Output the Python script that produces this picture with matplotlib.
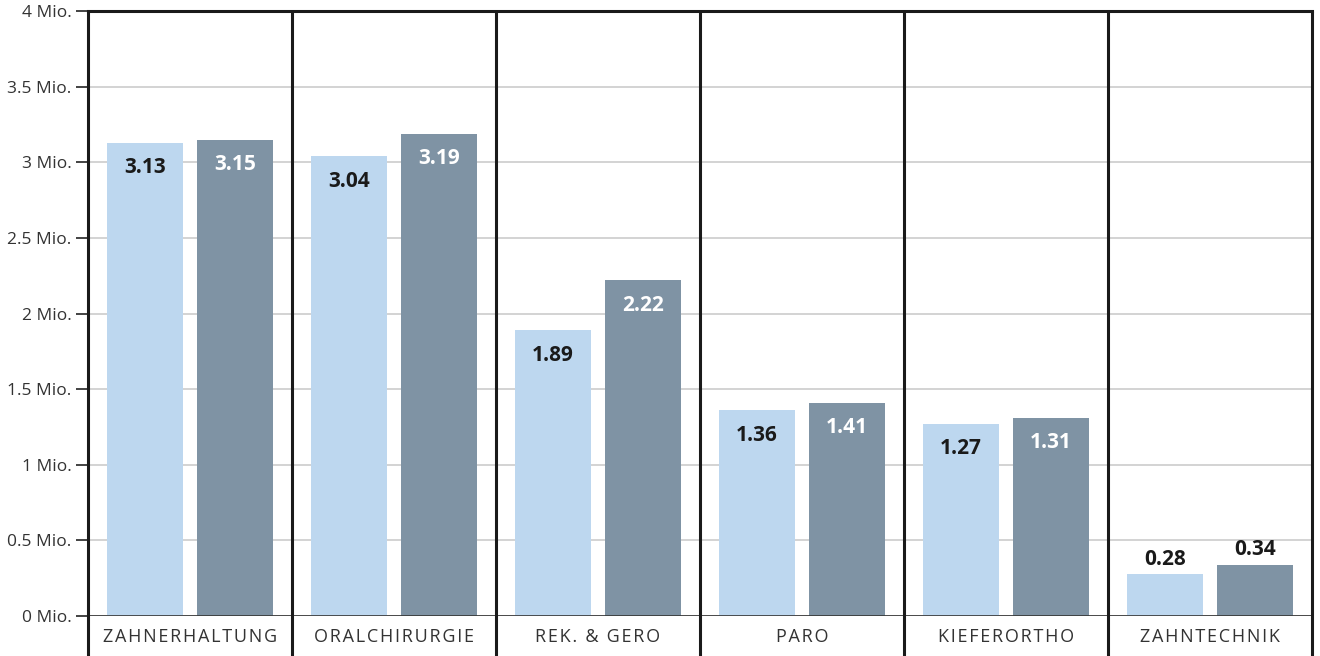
import numpy as np
import matplotlib.pyplot as plt
from matplotlib.transforms import blended_transform_factory

plt.rcParams['font.family'] = ['Open Sans', 'DejaVu Sans']

# data
categories = ['ZAHNERHALTUNG', 'ORALCHIRURGIE', 'REK. & GERO', 'PARO', 'KIEFERORTHO', 'ZAHNTECHNIK']
series_a = [3.13, 3.04, 1.89, 1.36, 1.27, 0.28]
series_b = [3.15, 3.19, 2.22, 1.41, 1.31, 0.34]
yticks = [0, 0.5, 1, 1.5, 2, 2.5, 3, 3.5, 4]
ytick_labels = ['0 Mio.', '0.5 Mio.', '1 Mio.', '1.5 Mio.', '2 Mio.', '2.5 Mio.', '3 Mio.', '3.5 Mio.', '4 Mio.']

light = '#BDD7EF'
dark = '#7F93A4'

fig = plt.figure(figsize=(13.2, 6.56), dpi=100)
ax = fig.add_axes([88/1320, 40/656, (1312-88)/1320, (616-11)/656])

x = np.arange(len(categories))
w = 76/204
gap = 14/204
ax.bar(x - (w+gap)/2, series_a, w, color=light, zorder=2)
ax.bar(x + (w+gap)/2, series_b, w, color=dark, zorder=2)

# value labels
for i in range(len(categories)):
    for off, v, col in [(-(w+gap)/2, series_a[i], '#1a1a1a'), ((w+gap)/2, series_b[i], 'white')]:
        if v > 1:
            ax.annotate(f'{v:.2f}', (x[i]+off, v), xytext=(0, -18), textcoords='offset points',
                        ha='center', va='center', fontsize=15, fontweight='bold', color=col, zorder=3)
        else:
            ax.annotate(f'{v:.2f}', (x[i]+off, v), xytext=(0, 10.5), textcoords='offset points',
                        ha='center', va='center', fontsize=15, fontweight='bold', color='#1a1a1a', zorder=3)

ax.set_xlim(-0.5, len(categories)-0.5)
ax.set_ylim(0, 4)
ax.set_yticks(yticks)
ax.set_yticklabels(ytick_labels, fontsize=12.5, color='#333333')
ax.yaxis.grid(True, color='#cccccc', linewidth=1.2, zorder=0)
ax.tick_params(axis='y', length=9, width=1.2, color='#222222', pad=3)
ax.set_xticks([])

for s in ['left', 'right', 'bottom']:
    ax.spines[s].set_visible(False)
ax.spines['top'].set_linewidth(2.2)
ax.spines['top'].set_color('#1a1a1a')
ax.axhline(0, color='#333333', linewidth=1.2, zorder=3)

# vertical separators extending below the axis
trans = blended_transform_factory(ax.transData, ax.transAxes)
for b in np.arange(len(categories)+1) - 0.5:
    ax.plot([b, b], [-0.07, 1.0], transform=trans, color='#1a1a1a', linewidth=2.2,
            clip_on=False, zorder=4, solid_capstyle='butt')

# category names, letter-spaced with hair spaces
for i, c in enumerate(categories):
    ax.text(x[i], -0.035, '\u200a'.join(c), transform=trans, ha='center', va='center',
            fontsize=13, color='#333333')

fig.savefig('out.png', dpi=100)
